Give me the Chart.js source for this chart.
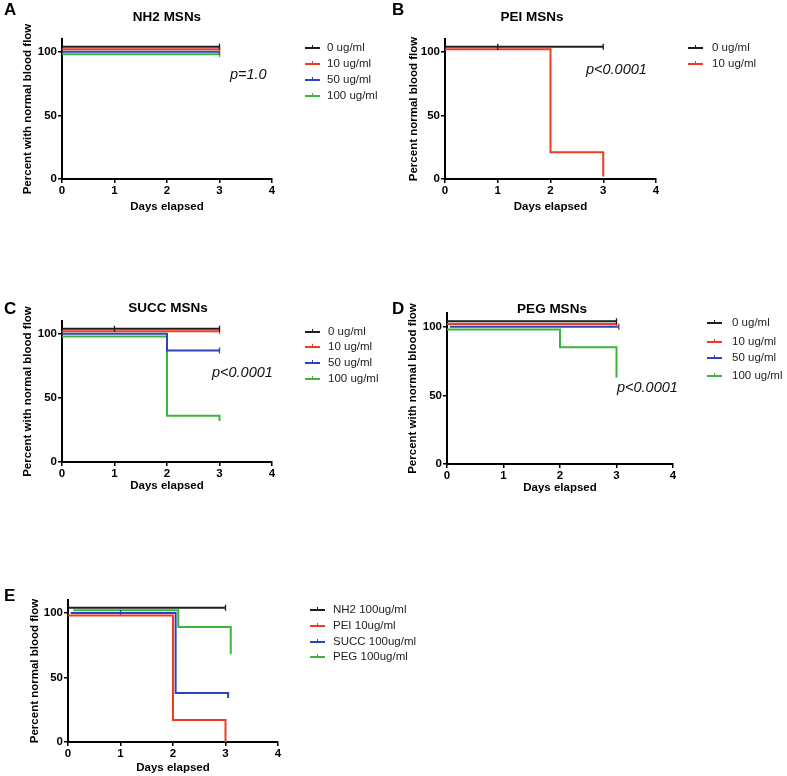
<!DOCTYPE html>
<html><head><meta charset="utf-8">
<script src="https://cdn.jsdelivr.net/npm/chart.js@4.4.1/dist/chart.umd.min.js"></script>
<style>
html,body{margin:0;padding:0;background:#fff;width:787px;height:776px;overflow:hidden}
canvas{position:absolute;left:0;top:0}
</style></head><body>
<canvas id="cA" width="787" height="776"></canvas>
<canvas id="cB" width="787" height="776"></canvas>
<canvas id="cC" width="787" height="776"></canvas>
<canvas id="cD" width="787" height="776"></canvas>
<canvas id="cE" width="787" height="776"></canvas>
<script>
// ---------------- data ----------------
const dayTicks = [0, 1, 2, 3, 4];
const percentTicks = [0, 50, 100];

// A: NH2 MSNs
const nh2Labels = ['0 ug/ml', '10 ug/ml', '50 ug/ml', '100 ug/ml'];
const nh2Days = [[0, 3], [0, 3], [0, 3], [0, 3]];
const nh2Percent = [[104, 104], [102, 102], [100, 100], [98, 98]];
const nh2Censored = [[3], [3], [3], [3]];
const nh2P = 'p=1.0';

// B: PEI MSNs
const peiLabels = ['0 ug/ml', '10 ug/ml'];
const peiDays = [[0, 3], [0, 2, 3]];
const peiPercent = [[104, 104], [102, 21, 2]];
const peiCensored = [[1, 3], []];
const peiP = 'p<0.0001';

// C: SUCC MSNs
const succLabels = ['0 ug/ml', '10 ug/ml', '50 ug/ml', '100 ug/ml'];
const succDays = [[0, 3], [0, 3], [0, 2, 3], [0, 2, 3]];
const succPercent = [[104, 104], [102, 102], [100, 87, 87], [98, 36, 32]];
const succCensored = [[1, 3], [3], [3], []];
const succP = 'p<0.0001';

// D: PEG MSNs
const pegLabels = ['0 ug/ml', '10 ug/ml', '50 ug/ml', '100 ug/ml'];
const pegDays = [[0, 3], [0, 3], [0.05, 3.04], [0, 2, 3]];
const pegPercent = [[104, 104], [102, 102], [100, 100], [98, 85, 63]];
const pegCensored = [[3], [3], [3.04], []];
const pegP = 'p<0.0001';

// E: comparison
const cmpLabels = ['NH2 100ug/ml', 'PEI 10ug/ml', 'SUCC 100ug/ml', 'PEG 100ug/ml'];
const cmpDays = [[0, 3], [0, 2, 3], [0.05, 2.05, 3.05], [0.1, 2.1, 3.1]];
const cmpPercent = [[104, 104], [98, 17, 0], [100, 38, 34], [102, 89, 68]];
const cmpCensored = [[3], [], [1], []];

// ---------------- style / layout ----------------
const W = 787, H = 776;
const FONT = '"Liberation Sans", Arial, Helvetica, sans-serif';
const COLORS = ['#1e1e1e', '#ef3b24', '#2b45b8', '#3db53d'];
const AX_FS = 11.5;

const panels = [
  {id: 'cA', letter: 'A', letterX: 4, letterY: 10, title: 'NH2 MSNs', titleX: 167, titleY: 17,
   yTitle: 'Percent with normal blood flow', L: 62, R: 272, T: 39, B: 179, yTX: 28, xTY: 207,
   legX: 305, legTX: 327, legY: [48, 64, 80, 96], pX: 230, pY: 75,
   labels: nh2Labels, days: nh2Days, percent: nh2Percent, censored: nh2Censored, p: nh2P},
  {id: 'cB', letter: 'B', letterX: 392, letterY: 10, title: 'PEI MSNs', titleX: 532, titleY: 17,
   yTitle: 'Percent normal blood flow', L: 445, R: 656, T: 39, B: 179, yTX: 414, xTY: 207,
   legX: 688, legTX: 712, legY: [48, 64], pX: 586, pY: 70,
   labels: peiLabels, days: peiDays, percent: peiPercent, censored: peiCensored, p: peiP},
  {id: 'cC', letter: 'C', letterX: 4, letterY: 309, title: 'SUCC MSNs', titleX: 168, titleY: 308,
   yTitle: 'Percent with normal blood flow', L: 62, R: 272, T: 321, B: 462, yTX: 28, xTY: 486,
   legX: 305, legTX: 328, legY: [332, 347, 363, 379], pX: 212, pY: 373,
   labels: succLabels, days: succDays, percent: succPercent, censored: succCensored, p: succP},
  {id: 'cD', letter: 'D', letterX: 392, letterY: 309, title: 'PEG MSNs', titleX: 552, titleY: 309,
   yTitle: 'Percent with normal blood flow', L: 447, R: 673, T: 313, B: 464, yTX: 413, xTY: 488,
   legX: 707, legTX: 732, legY: [323, 342, 358, 376], pX: 617, pY: 388,
   labels: pegLabels, days: pegDays, percent: pegPercent, censored: pegCensored, p: pegP},
  {id: 'cE', letter: 'E', letterX: 4, letterY: 596, title: '', titleX: 0, titleY: 0,
   yTitle: 'Percent normal blood flow', L: 68, R: 278, T: 600, B: 742, yTX: 35, xTY: 768,
   legX: 310, legTX: 333, legY: [610, 626, 642, 657], pX: 0, pY: 0,
   labels: cmpLabels, days: cmpDays, percent: cmpPercent, censored: cmpCensored, p: ''}
];

function buildData(days, percent, censored) {
  return days.map((xs, i) => {
    const pts = xs.map((x, j) => ({x: x, y: percent[i][j], c: false}));
    censored[i].forEach(c => {
      let y = percent[i][0];
      xs.forEach((x, j) => { if (x <= c) y = percent[i][j]; });
      const ex = pts.find(pt => pt.x === c && pt.y === y);
      if (ex) ex.c = true; else pts.push({x: c, y: y, c: true});
    });
    pts.sort((a, b) => a.x - b.x);
    return pts;
  });
}

const overlay = {
  id: 'overlay',
  afterDraw(chart, args, opts) {
    const p = opts.panel;
    const ctx = chart.ctx;
    ctx.save();
    ctx.textBaseline = 'middle';
    ctx.fillStyle = '#000';
    ctx.textAlign = 'left';
    ctx.font = 'bold 17px ' + FONT;
    ctx.fillText(p.letter, p.letterX, p.letterY);
    if (p.title) {
      ctx.font = 'bold 13.5px ' + FONT;
      ctx.textAlign = 'center';
      ctx.fillText(p.title, p.titleX, p.titleY);
    }
    if (p.p) {
      ctx.font = 'italic 14.5px ' + FONT;
      ctx.textAlign = 'left';
      ctx.fillStyle = '#111';
      ctx.fillText(p.p, p.pX, p.pY);
    }
    chart.data.datasets.forEach((ds, i) => {
      const y = p.legY[i];
      ctx.strokeStyle = ds.borderColor;
      ctx.lineWidth = 2;
      ctx.beginPath(); ctx.moveTo(p.legX, y); ctx.lineTo(p.legX + 15, y); ctx.stroke();
      ctx.lineWidth = 1;
      ctx.beginPath(); ctx.moveTo(p.legX + 7.5, y - 3); ctx.lineTo(p.legX + 7.5, y); ctx.stroke();
      ctx.fillStyle = '#222';
      ctx.font = '11.5px ' + FONT;
      ctx.textAlign = 'left';
      ctx.fillText(ds.label, p.legTX, y);
    });
    ctx.restore();
  }
};

function makeChart(p) {
  const lh = AX_FS * 1.2;
  const yLeft = p.yTX - lh / 2 - 4;
  const yW = p.L - yLeft;
  const xBottom = p.xTY + lh / 2 + 4;
  const xH = xBottom - p.B;
  const series = buildData(p.days, p.percent, p.censored);
  const axisFont = {family: FONT, size: AX_FS, weight: 'bold'};
  new Chart(document.getElementById(p.id), {
    type: 'scatter',
    data: {
      datasets: series.map((pts, i) => ({
        label: p.labels[i],
        data: pts,
        showLine: true,
        stepped: 'before',
        borderColor: COLORS[i],
        backgroundColor: COLORS[i],
        borderWidth: 2,
        fill: false,
        pointStyle: 'line',
        pointRotation: 90,
        pointRadius: ctx => (ctx.raw && ctx.raw.c) ? 3 : 0,
        pointHoverRadius: 0,
        pointBorderColor: COLORS[i],
        pointBorderWidth: 1.3,
        clip: false
      }))
    },
    options: {
      responsive: false,
      animation: false,
      events: [],
      layout: {autoPadding: false, padding: {left: yLeft, top: p.T, right: W - p.R, bottom: H - xBottom}},
      plugins: {legend: {display: false}, tooltip: {enabled: false}, overlay: {panel: p}},
      scales: {
        x: {
          type: 'linear', min: 0, max: 4,
          afterBuildTicks: s => { s.ticks = dayTicks.map(v => ({value: v})); },
          afterFit: s => { s.height = xH; s.paddingLeft = 0; s.paddingRight = 0; },
          grid: {drawOnChartArea: false, drawTicks: true, tickLength: 4, color: '#000', lineWidth: 1.5},
          border: {display: true, color: '#000', width: 2},
          ticks: {color: '#000', font: axisFont, padding: 1, maxRotation: 0, autoSkip: false},
          title: {display: true, text: 'Days elapsed', color: '#000', font: axisFont, padding: {top: 4, bottom: 4}}
        },
        y: {
          type: 'linear', min: 0, max: 110,
          afterBuildTicks: s => { s.ticks = percentTicks.map(v => ({value: v})); },
          afterFit: s => { s.width = yW; s.paddingTop = 0; s.paddingBottom = 0; },
          grid: {drawOnChartArea: false, drawTicks: true, tickLength: 4, color: '#000', lineWidth: 1.5},
          border: {display: true, color: '#000', width: 2},
          ticks: {color: '#000', font: axisFont, padding: 1, autoSkip: false},
          title: {display: true, text: p.yTitle, color: '#000', font: axisFont, padding: {top: 4, bottom: 4}}
        }
      }
    },
    plugins: [overlay]
  });
}

panels.forEach(makeChart);
</script>
</body></html>
